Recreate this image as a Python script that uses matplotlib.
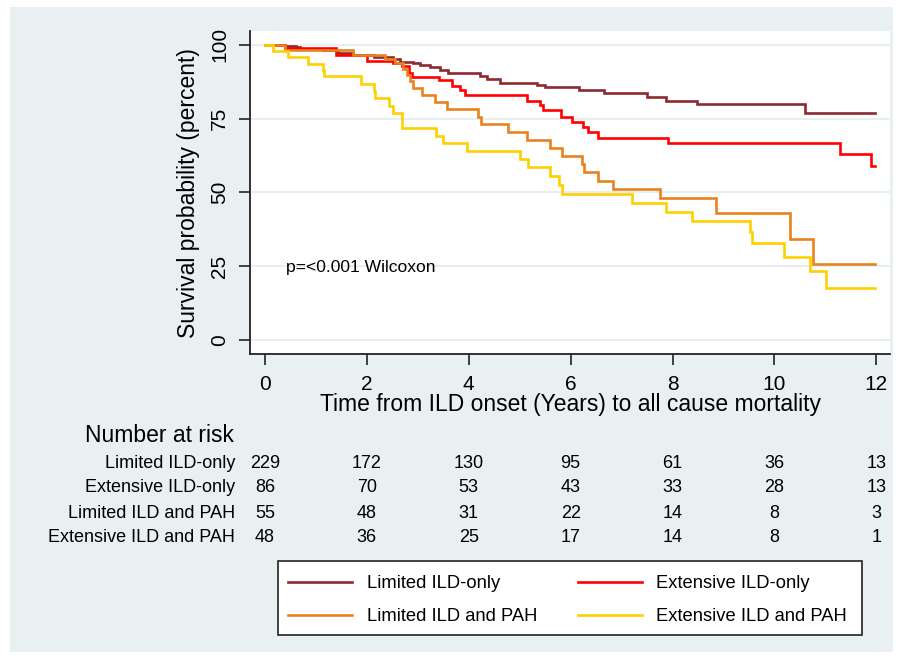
import matplotlib
matplotlib.use("Agg")
import matplotlib.pyplot as plt
from matplotlib.patches import Rectangle
from matplotlib.transforms import blended_transform_factory

plt.rcParams["font.family"] = ["Liberation Sans", "DejaVu Sans"]

# Kaplan-Meier steps (years, percent surviving)
lim_only_t = [0, 0.4, 0.6, 0.69, 1.14, 1.44, 1.73, 2.13, 2.52, 2.65, 2.91, 3.05, 3.24,
              3.44, 3.6, 4.22, 4.35, 4.62, 5.34, 5.5, 6.16, 6.66, 7.49, 7.88, 8.49,
              10.61, 11.98]
lim_only_s = [100, 99.6, 99.2, 98.6, 98.1, 97.2, 96.6, 96.0, 95.1, 94.3, 93.8, 93.2, 92.4,
              91.5, 90.3, 89.4, 88.4, 87.2, 86.4, 85.6, 84.7, 83.6, 82.5, 81.1, 80.0,
              77.0, 77.0]

ext_only_t = [0, 0.39, 1.39, 2.0, 2.52, 2.68, 2.82, 2.88, 3.41, 3.67, 3.83, 3.93, 5.15,
              5.4, 5.45, 5.82, 6.02, 6.25, 6.35, 6.53, 7.92, 11.28, 11.9, 11.98]
ext_only_s = [100, 98.8, 96.5, 94.7, 93.8, 93.0, 90.6, 89.2, 88.0, 86.1, 84.7, 83.0, 81.0,
              79.6, 77.9, 75.7, 74.0, 72.3, 70.6, 68.6, 66.9, 63.1, 58.8, 58.8]

lim_pah_t = [0, 0.39, 1.73, 2.36, 2.55, 2.7, 2.78, 2.85, 2.91, 3.08, 3.34, 3.57, 4.19,
             4.24, 4.77, 5.14, 5.6, 5.83, 6.22, 6.27, 6.53, 6.84, 7.76, 8.86, 10.3,
             10.76, 11.98]
lim_pah_s = [100, 98.2, 96.6, 95.2, 93.8, 91.7, 89.8, 87.6, 85.3, 83.0, 80.8, 78.2, 75.7,
             73.1, 70.6, 67.8, 65.2, 62.4, 59.5, 56.8, 53.9, 51.2, 48.0, 42.9, 34.2,
             25.8, 25.8]

ext_pah_t = [0, 0.16, 0.45, 0.85, 1.13, 1.16, 1.89, 2.13, 2.16, 2.44, 2.52, 2.68, 3.35,
             3.5, 3.96, 5.01, 5.17, 5.6, 5.78, 5.83, 7.2, 7.88, 8.38, 9.53, 9.57, 10.18,
             10.69, 11.02, 11.98]
ext_pah_s = [100, 97.9, 95.8, 93.6, 91.5, 89.3, 86.9, 84.2, 82.0, 79.3, 76.8, 71.7, 69.2,
             66.7, 64.2, 61.4, 58.5, 55.4, 52.5, 49.5, 46.3, 43.3, 40.3, 36.5, 33.0, 28.2,
             23.5, 17.7, 17.7]

group_names = ["Limited ILD-only", "Extensive ILD-only",
               "Limited ILD and PAH", "Extensive ILD and PAH"]
group_colors = ["#8B2A30", "#FF0000", "#E8821E", "#FFD000"]

risk_times = [0, 2, 4, 6, 8, 10, 12]
risk_lim_only = [229, 172, 130, 95, 61, 36, 13]
risk_ext_only = [86, 70, 53, 43, 33, 28, 13]
risk_lim_pah = [55, 48, 31, 22, 14, 8, 3]
risk_ext_pah = [48, 36, 25, 17, 14, 8, 1]

y_ticks = [0, 25, 50, 75, 100]
x_ticks = [0, 2, 4, 6, 8, 10, 12]

BG = "#E8F0F2"
W, H = 901, 659


def fx(px):
    return px / W


def fy(py):
    return 1 - py / H


fig = plt.figure(figsize=(W / 100, H / 100), dpi=100)
fig.patch.set_facecolor("white")
fig.add_artist(Rectangle((fx(10), fy(652)), fx(893) - fx(10), fy(7) - fy(652),
                         transform=fig.transFigure, facecolor=BG, edgecolor="none",
                         zorder=-10))

ax = fig.add_axes([fx(250), fy(354), fx(890) - fx(250), fy(31) - fy(354)])
ax.set_facecolor("white")

curves = [(lim_only_t, lim_only_s), (ext_only_t, ext_only_s),
          (lim_pah_t, lim_pah_s), (ext_pah_t, ext_pah_s)]
lines = []
for (t, s), name, col in zip(curves, group_names, group_colors):
    ln, = ax.plot(t, s, drawstyle="steps-post", color=col, lw=1.9, label=name,
                  solid_joinstyle="miter")
    lines.append(ln)

for v in y_ticks:
    ax.axhline(v, color="#E6EEF2", lw=1.3, zorder=0)

ax.set_xlim(-0.295, 12.27)
ax.set_ylim(-4.75, 104.7)
ax.set_xticks(x_ticks)
ax.set_yticks(y_ticks)
ax.tick_params(length=8, width=1.2, pad=7, labelsize=15, color="#222222")
plt.setp(ax.get_yticklabels(), rotation=90, va="center")
for side in ["top", "right"]:
    ax.spines[side].set_visible(False)
for side in ["left", "bottom"]:
    ax.spines[side].set_color("#222222")
    ax.spines[side].set_linewidth(1.3)

fig.text(fx(188), fy(193), "Survival probability (percent)", rotation=90,
         ha="center", va="center", fontsize=16.5)
fig.text(fx(570), fy(404), "Time from ILD onset (Years) to all cause mortality",
         ha="center", va="center", fontsize=16.5)

ax.text(0.41, 24.4, "p=<0.001 Wilcoxon", ha="left", va="center", fontsize=12.6)

# number at risk table
tr = blended_transform_factory(ax.transData, fig.transFigure)
fig.text(fx(85), fy(435), "Number at risk", ha="left", va="center", fontsize=16.5)
risk_rows = [risk_lim_only, risk_ext_only, risk_lim_pah, risk_ext_pah]
row_y = [463, 488, 513, 538]
for name, counts, yp in zip(group_names, risk_rows, row_y):
    fig.text(fx(235), fy(yp), name, ha="right", va="center", fontsize=13)
    for t, n in zip(risk_times, counts):
        ax.text(t, fy(yp), str(n), transform=tr, ha="center", va="center",
                fontsize=13, clip_on=False)

# legend
fig.add_artist(Rectangle((fx(278), fy(635)), fx(862) - fx(278), fy(561) - fy(635),
                         transform=fig.transFigure, facecolor="white",
                         edgecolor="#222222", lw=1.2, zorder=1))
order = [0, 2, 1, 3]
leg = fig.legend([lines[i] for i in order], [group_names[i] for i in order], ncol=2,
                 loc="upper left", bbox_to_anchor=(fx(288), fy(575)), frameon=False,
                 borderpad=0, borderaxespad=0, handlelength=3.5, handletextpad=0.8,
                 columnspacing=2.2, labelspacing=0.88, fontsize=13.2)
leg.set_zorder(2)

fig.savefig("out.png", dpi=100)
